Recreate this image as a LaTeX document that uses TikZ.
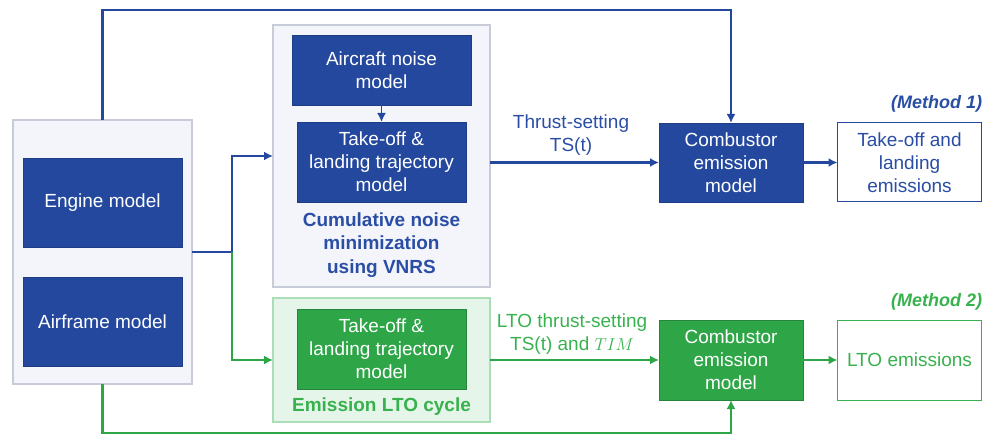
\documentclass[tikz,border=0pt]{standalone}
\usepackage{fontspec}
\setmainfont{Liberation Sans}
\usetikzlibrary{arrows.meta}
\definecolor{navy}{RGB}{36,72,158}
\definecolor{navytext}{RGB}{42,78,165}
\definecolor{leaf}{RGB}{46,166,72}
\definecolor{leaftext}{RGB}{56,178,78}
\definecolor{panelgray}{RGB}{244,245,250}
\definecolor{panelrim}{RGB}{200,203,216}
\definecolor{panelgreen}{RGB}{230,245,233}
\definecolor{greenrim}{RGB}{170,222,182}
\tikzset{
  txt/.style={font=\fontsize{19}{23}\selectfont, align=center, inner sep=0pt, outer sep=0pt},
  bluebox/.style={txt, fill=navy, draw=navy!85!black, line width=0.8pt, text=white},
  greenbox/.style={txt, fill=leaf, draw=leaf!80!black, line width=0.8pt, text=white},
  panel/.style={txt, fill=panelgray, draw=panelrim, line width=1.2pt},
  greenpanel/.style={txt, fill=panelgreen, draw=greenrim, line width=1.2pt},
  outblue/.style={txt, fill=white, draw=navy, line width=1pt, text=navytext},
  outgreen/.style={txt, fill=white, draw=leaftext, line width=1pt, text=leaftext},
  bluewire/.style={draw=navy, line width=2.8pt},
  greenwire/.style={draw=leaf, line width=2.8pt},
  tip/.style={-{Latex[length=9pt,width=9pt]}},
}
\begin{document}
\begin{tikzpicture}[x=1pt, y=-1pt]
\useasboundingbox (0,0) rectangle (984,438);

% input models
\node[panel, minimum width=179pt, minimum height=264pt] (leftc) at (102.5,252) {};
\node[bluebox, minimum width=159pt, minimum height=89pt] (engine) at (102.5,202.5) {Engine model};
\node[bluebox, minimum width=159pt, minimum height=89pt] (airframe) at (102.5,321.5) {Airframe model};

% noise minimization block
\node[panel, minimum width=217pt, minimum height=262pt] (noisec) at (381.5,156) {};
\node[bluebox, minimum width=179pt, minimum height=70pt] (acnoise) at (381.5,70) {Aircraft noise\\model};
\node[bluebox, minimum width=169pt, minimum height=80pt] (trajb) at (381.5,162) {Take-off \&\\landing trajectory\\model};
\node[txt, text=navytext, font=\fontsize{19}{23.5}\selectfont\bfseries] (vnrs) at (381.5,245) {Cumulative noise\\minimization\\using VNRS};

% LTO cycle block
\node[greenpanel, minimum width=217pt, minimum height=124pt] (greenc) at (381.5,360) {};
\node[greenbox, minimum width=169pt, minimum height=80pt] (trajg) at (381.5,349) {Take-off \&\\landing trajectory\\model};
\node[txt, text=leaftext, font=\fontsize{19}{23}\selectfont\bfseries] (lto) at (381.5,407) {Emission LTO cycle};

% combustor models and outputs
\node[bluebox, minimum width=144pt, minimum height=79pt] (combb) at (731,162.5) {Combustor\\emission\\model};
\node[outblue, minimum width=144pt, minimum height=79pt] (out1) at (909.5,162.5) {Take-off and\\landing\\emissions};
\node[greenbox, minimum width=144pt, minimum height=80pt] (combg) at (731,360) {Combustor\\emission\\model};
\node[outgreen, minimum width=144pt, minimum height=80pt] (out2) at (909.5,360) {LTO emissions};

\node[txt, anchor=east, text=navytext, font=\fontsize{18}{22}\selectfont\bfseries\itshape] (m1) at (982,104) {(Method 1)};
\node[txt, anchor=east, text=leaftext, font=\fontsize{18}{22}\selectfont\bfseries\itshape] (m2) at (982,302) {(Method 2)};

% connector labels
\node[txt, text=navytext] (lab1) at (571,135) {Thrust-setting\\TS(t)};
\node[txt, text=leaftext] (lab2) at (572,334) {LTO thrust-setting\\TS(t) and $TIM$};

% connectors
\coordinate (split) at (232,252);
\coordinate (topline) at (0,10);
\coordinate (bottomline) at (0,433);

\draw[bluewire, tip] (leftc.north) |- (topline -| combb.north) -- (combb.north);
\draw[bluewire, tip] (leftc.east) -- (split) |- (noisec.west);
\draw[greenwire, tip] (split) |- (greenc.west);
\draw[bluewire, tip, line width=1.8pt] (acnoise.south) -- (trajb.north);
\draw[bluewire, tip] (noisec.east |- combb.west) -- (combb.west);
\draw[bluewire, tip] (combb.east) -- (out1.west);
\draw[greenwire, tip] (greenc.east |- combg.west) -- (combg.west);
\draw[greenwire, tip] (combg.east) -- (out2.west);
\draw[greenwire, tip] (leftc.south) |- (bottomline -| combg.south) -- (combg.south);
\end{tikzpicture}
\end{document}
